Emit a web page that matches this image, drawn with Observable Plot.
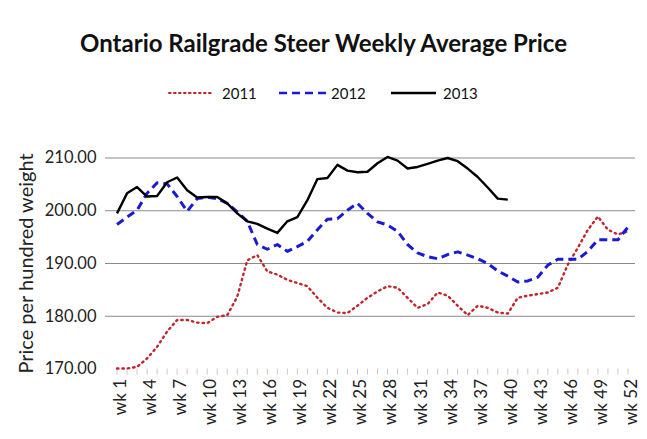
<!DOCTYPE html>
<html>
<head>
<meta charset="utf-8">
<script src="https://cdn.jsdelivr.net/npm/d3@7"></script>
<script src="https://cdn.jsdelivr.net/npm/@observablehq/plot@0.6"></script>
<style>
  html, body { margin: 0; padding: 0; background: #fff; }
  #wrap { position: relative; width: 647px; height: 439px; overflow: hidden; font-family: Lato, "Open Sans", sans-serif; color: #111; }
  #title { position: absolute; left: 0; width: 647px; top: 29px; text-align: center; font-weight: bold; font-size: 24px; line-height: 28px; }
  .lg { position: absolute; top: 84px; height: 18px; font-size: 15px; line-height: 18px; }
  .sw { position: absolute; top: 84px; }
  #chart { position: absolute; left: 0; top: 110px; }
</style>
</head>
<body>
<div id="wrap">
  <div id="title">Ontario Railgrade Steer Weekly Average Price</div>
  <div id="legend"></div>
  <div id="chart"></div>
</div>
<script>
const weeks = [1,2,3,4,5,6,7,8,9,10,11,12,13,14,15,16,17,18,19,20,21,22,23,24,25,26,27,28,29,30,31,32,33,34,35,36,37,38,39,40,41,42,43,44,45,46,47,48,49,50,51,52];
const tickWeeks = [1,4,7,10,13,16,19,22,25,28,31,34,37,40,43,46,49,52];
const yTicks = [170, 180, 190, 200, 210];
const gridValues = [180, 190, 200, 210];
const seriesNames = ["2011", "2012", "2013"];

const price2011 = [170.1,170.1,170.4,172.0,174.2,177.1,179.3,179.3,178.8,178.7,
  179.9,180.2,183.7,190.6,191.6,188.5,187.9,186.9,186.3,185.7,
  183.5,181.6,180.7,180.6,182.0,183.5,184.7,185.7,185.4,183.5,
  181.6,182.3,184.5,183.9,182.0,180.2,182.0,181.6,180.7,180.5,
  183.5,183.9,184.2,184.5,185.4,189.8,193.0,196.4,198.9,196.4,195.5,196.1];
const price2012 = [197.4,198.8,200.1,203.3,205.3,205.1,202.7,199.9,202.3,202.6,
  202.3,201.4,199.8,198.0,193.6,192.7,193.6,192.3,193.2,194.2,
  196.4,198.4,198.5,200.1,201.4,199.5,197.9,197.3,196.1,193.6,
  192.0,191.3,190.9,191.7,192.2,191.6,190.9,190.0,188.6,187.6,
  186.5,186.7,187.4,189.7,190.8,190.8,190.8,192.3,194.5,194.5,194.5,196.9];
const price2013 = [199.5,203.3,204.5,202.7,202.8,205.4,206.3,203.9,202.5,202.6,
  202.6,201.4,199.5,198.0,197.5,196.6,195.8,198.0,198.8,202.0,
  206.0,206.2,208.7,207.6,207.3,207.4,209.0,210.2,209.5,208.0,
  208.3,208.9,209.5,210.0,209.4,208.0,206.4,204.4,202.3,202.1];

const styles = {
  "2011": {stroke: "#c0262b", width: 2.4, dash: "1.4,4", cap: "round"},
  "2012": {stroke: "#1a1ad6", width: 3, dash: "8,5", cap: "butt"},
  "2013": {stroke: "#000000", width: 2.4, dash: null, cap: "butt"}
};

const toRows = (vals) => vals.map((v, i) => ({week: weeks[i], price: v}));
const rows = {"2011": toRows(price2011), "2012": toRows(price2012), "2013": toRows(price2013)};

const font = "Lato, 'Open Sans', sans-serif";

const lineMarks = seriesNames.map(name => Plot.line(rows[name], {
  x: "week", y: "price",
  stroke: styles[name].stroke,
  strokeWidth: styles[name].width,
  strokeDasharray: styles[name].dash,
  strokeLinecap: styles[name].cap,
  strokeLinejoin: "round"
}));

const plot = Plot.plot({
  width: 647,
  height: 329,
  marginLeft: 105,
  marginRight: 12,
  marginTop: 47.5,
  marginBottom: 70.5,
  style: {fontFamily: font, background: "transparent", overflow: "visible"},
  x: {type: "linear", domain: [-0.15, 52.75]},
  y: {domain: [170, 210]},
  marks: [
    Plot.ruleY(gridValues, {stroke: "#8a8a8a", strokeWidth: 1}),
    Plot.axisY({ticks: yTicks, tickSize: 0, tickPadding: 9, tickFormat: d3.format(".2f"), fontSize: 16.5, fill: "#222", label: null}),
    Plot.axisX({ticks: weeks, tickSize: 6, text: null, stroke: "#c8c8c8", label: null}),
    Plot.axisX({ticks: tickWeeks, tickSize: 0, tickPadding: 10, tickRotate: -90, tickFormat: d => "wk " + d, fontSize: 17, fill: "#222", dx: 3.5, label: null}),
    Plot.text(["Price per hundred weight"], {frameAnchor: "left", textAnchor: "middle", rotate: -90, dx: -79, fontSize: 20, fill: "#222", text: d => d}),
    ...lineMarks
  ]
});
document.getElementById("chart").appendChild(plot);

// legend
const legendLayout = {
  "2011": {sx: 168, sw: 45, tx: 222},
  "2012": {sx: 278, sw: 52, tx: 331},
  "2013": {sx: 390, sw: 47, tx: 443}
};
const lg = document.getElementById("legend");
seriesNames.forEach(name => {
  const L = legendLayout[name], s = styles[name];
  const svg = d3.create("svg").attr("class", "sw").attr("width", L.sw).attr("height", 18)
    .style("left", L.sx + "px");
  svg.append("line").attr("x1", 1).attr("x2", L.sw - 1).attr("y1", 9).attr("y2", 9)
    .attr("stroke", s.stroke).attr("stroke-width", name === "2011" ? 2 : 2.4)
    .attr("stroke-dasharray", name === "2011" ? "1.6,3.4" : s.dash).attr("stroke-linecap", s.cap);
  lg.appendChild(svg.node());
  const t = document.createElement("div");
  t.className = "lg";
  t.style.left = L.tx + "px";
  t.textContent = name;
  lg.appendChild(t);
});
</script>
</body>
</html>
